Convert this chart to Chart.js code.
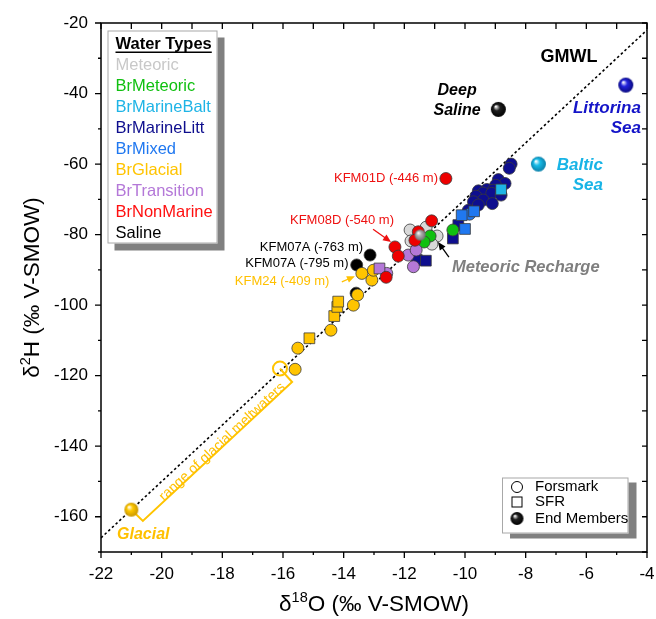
<!DOCTYPE html>
<html><head><meta charset="utf-8">
<script src="https://cdn.jsdelivr.net/npm/chart.js@4.4.1/dist/chart.umd.min.js"></script>
<style>html,body{margin:0;padding:0;background:#fff;}#wrap{width:656px;height:619px;position:relative;}</style>
</head><body><div id="wrap"><canvas id="c" width="656" height="619"></canvas></div>
<script>
// ---------- DATA ----------
const xTicks = [-22,-20,-18,-16,-14,-12,-10,-8,-6,-4];
const yTicks = [-160,-140,-120,-100,-80,-60,-40,-20];

const gmwlX = [-22, -4];
const gmwlY = [-166, -22];
const meltRange = [[-16.1,-118.0],[-15.7,-121.8],[-20.62,-161.2],[-21.0,-158.0]];
const meltCircle = [[-16.1,-118.0]];

const meteoricForsmark = [[-11.81,-78.7],[-11.78,-81.8],[-11.28,-77.9],[-10.92,-80.4],[-11.09,-82.7]];
const brMeteoricForsmark = [[-11.15,-80.4],[-11.35,-82.1],[-10.40,-78.7]];
const brMarineBaltSFR = [[-8.81,-67.2]];
const brMarineLittForsmark = [[-8.48,-60.0],[-8.54,-61.2],[-8.90,-64.4],[-8.68,-65.5],[-8.99,-66.0],[-9.28,-67.2],[-9.07,-67.4],[-9.56,-67.6],[-9.40,-68.2],[-9.12,-68.3],[-9.64,-69.1],[-9.40,-70.2],[-9.10,-71.2],[-9.72,-70.7],[-9.56,-71.6],[-9.89,-73.1],[-8.81,-68.8]];
const brMarineLittSFR = [[-10.22,-77.3],[-10.40,-81.1],[-11.59,-87.2],[-11.29,-87.4]];
const brMixedForsmark = [[-9.85,-74.2]];
const brMixedSFR = [[-10.11,-74.5],[-9.70,-73.4],[-10.00,-78.4]];
const brGlacialForsmark = [[-15.51,-112.2],[-15.60,-118.2],[-14.42,-107.1],[-13.68,-100.0],[-13.54,-97.1],[-13.40,-91.0],[-13.07,-92.9],[-13.02,-90.1]];
const brGlacialSFR = [[-15.13,-109.4],[-14.31,-103.1],[-14.21,-100.5],[-14.18,-99.0]];
const brTransitionForsmark = [[-12.58,-91.0],[-11.87,-85.8],[-11.61,-84.4],[-11.70,-89.1]];
const brTransitionSFR = [[-12.82,-89.6]];
const brNonMarineForsmark = [[-10.63,-64.1],[-11.10,-76.1],[-11.54,-79.2],[-11.65,-81.6],[-12.31,-83.5],[-12.20,-86.1],[-12.60,-92.1]];
const salineForsmark = [[-13.13,-85.8],[-13.57,-88.6],[-13.59,-96.6]];

const endDeepSaline = [[-8.9,-44.5]];
const endLittorina = [[-4.7,-37.6]];
const endBaltic = [[-7.58,-60.0]];
const endGlacial = [[-21.0,-158.0]];
const endMeteoric = [[-11.48,-80.1]];

const waterTypes = ['Meteoric','BrMeteoric','BrMarineBalt','BrMarineLitt','BrMixed','BrGlacial','BrTransition','BrNonMarine','Saline'];
const typeColors = ['#C8C8C8','#10C010','#1EB4E6','#0E0E8E','#2078F0','#FFC400','#B478D8','#FF1010','#000000'];

// ---------- HELPERS ----------
const FONT = "'Liberation Sans', Arial, Helvetica, sans-serif";
const pts = a => a.map(([x,y]) => ({x,y}));
function sphere(color, dark, r){
  const c = document.createElement('canvas');
  const s = Math.ceil(r*2+2); c.width = s; c.height = s;
  const g = c.getContext('2d'); const cx = s/2, cy = s/2;
  const gr = g.createRadialGradient(cx-r*0.35, cy-r*0.4, r*0.05, cx, cy, r);
  gr.addColorStop(0,'#ffffff'); gr.addColorStop(0.4,color); gr.addColorStop(1,dark);
  g.fillStyle = gr; g.beginPath(); g.arc(cx,cy,r,0,Math.PI*2); g.fill();
  return c;
}
const sphBlack = sphere('#202020','#000000',7.5);
const sphLitt = sphere('#2222DD','#0A0A80',7.5);
const sphBaltic = sphere('#18BCE8','#0A7FA8',7.5);
const sphGlacial = sphere('#FFC800','#C89600',7);
const sphMeteoric = sphere('#B0B0B0','#707070',5.5);
const sphLegend = sphere('#202020','#000000',6.5);

function scat(data, color, style, order, radius){
  return {data: pts(data), backgroundColor: color, borderColor:'#3a3a3a', borderWidth:0.8,
    pointStyle: style, pointRadius: radius || (style==='rect'?7.6:6), order, showLine:false};
}
function endm(data, img, order){
  return {data: pts(data), pointStyle: img, pointRadius: 8, order, showLine:false};
}

const datasets = [
  {data: gmwlX.map((x,i)=>({x, y:gmwlY[i]})), showLine:true, borderColor:'#000', borderWidth:1.6, borderDash:[2.5,2.5], pointRadius:0, order:100},
  {data: pts(meltRange), showLine:true, borderColor:'#FFC400', borderWidth:2, pointRadius:0, order:99},
  {data: pts(meltCircle), showLine:false, backgroundColor:'rgba(0,0,0,0)', borderColor:'#FFC400', borderWidth:2, pointStyle:'circle', pointRadius:7, order:98},
  scat(brMarineLittForsmark, typeColors[3], 'circle', 50),
  scat(brMarineLittSFR, typeColors[3], 'rect', 49),
  scat(brMixedForsmark, typeColors[4], 'circle', 48),
  scat(brMixedSFR, typeColors[4], 'rect', 47),
  scat(brMarineBaltSFR, typeColors[2], 'rect', 46),
  scat(meteoricForsmark, '#D8D8D8', 'circle', 45),
  scat(brMeteoricForsmark, typeColors[1], 'circle', 44),
  scat(salineForsmark, typeColors[8], 'circle', 43),
  scat(brGlacialSFR, typeColors[5], 'rect', 42),
  scat(brGlacialForsmark, typeColors[5], 'circle', 41),
  scat(brTransitionForsmark, typeColors[6], 'circle', 40),
  scat(brTransitionSFR, typeColors[6], 'rect', 39),
  scat(brNonMarineForsmark, '#EE0000', 'circle', 38),
  endm(endDeepSaline, sphBlack, 5),
  endm(endLittorina, sphLitt, 5),
  endm(endBaltic, sphBaltic, 5),
  endm(endGlacial, sphGlacial, 5),
  endm(endMeteoric, sphMeteoric, 4),
];

// annotations anchored in data units
const labels = [
  {t:'KFM01D (-446 m)', x:-10.89, y:-64.0, al:'right', c:'#EE1111', f:`13px ${FONT}`},
  {t:'KFM08D (-540 m)', x:-12.34, y:-75.9, al:'right', c:'#EE1111', f:`13px ${FONT}`},
  {t:'KFM07A (-763 m)', x:-13.36, y:-83.5, al:'right', c:'#000', f:`13px ${FONT}`},
  {t:'KFM07A (-795 m)', x:-13.84, y:-88.2, al:'right', c:'#000', f:`13px ${FONT}`},
  {t:'KFM24 (-409 m)', x:-14.47, y:-93.2, al:'right', c:'#FFC000', f:`13px ${FONT}`},
  {t:'Meteoric Recharge', x:-10.43, y:-89.35, al:'left', c:'#7F7F7F', f:`italic bold 16.5px ${FONT}`},
  {t:'GMWL', x:-6.57, y:-29.7, al:'center', c:'#000', f:`bold 18px ${FONT}`},
  {t:'Deep', x:-10.26, y:-39.1, al:'center', c:'#000', f:`italic bold 16px ${FONT}`},
  {t:'Saline', x:-10.26, y:-44.7, al:'center', c:'#000', f:`italic bold 16px ${FONT}`},
  {t:'Littorina', x:-4.20, y:-44.2, al:'right', c:'#1414C8', f:`italic bold 17px ${FONT}`},
  {t:'Sea', x:-4.20, y:-49.9, al:'right', c:'#1414C8', f:`italic bold 17px ${FONT}`},
  {t:'Baltic', x:-5.45, y:-60.3, al:'right', c:'#18B4E6', f:`italic bold 17px ${FONT}`},
  {t:'Sea', x:-5.45, y:-66.0, al:'right', c:'#18B4E6', f:`italic bold 17px ${FONT}`},
  {t:'Glacial', x:-21.47, y:-165.2, al:'left', c:'#FFC000', f:`italic bold 16px ${FONT}`},
];
const arrows = [
  {from:[-13.03,-78.5], to:[-12.44,-82.1], c:'#EE1111'},
  {from:[-14.06,-93.4], to:[-13.63,-91.8], c:'#FFC000'},
  {from:[-10.53,-86.4], to:[-10.89,-82.1], c:'#000'},
];
const rotLabel = {t:'range of glacial meltwaters', x:-18.0, y:-138.8, c:'#FFC000', f:`14px ${FONT}`};

function arrow(ctx, x1,y1,x2,y2,c){
  const ang = Math.atan2(y2-y1, x2-x1), hl = 8, hw = 3.5;
  ctx.strokeStyle=c; ctx.fillStyle=c; ctx.lineWidth=1.3;
  ctx.beginPath(); ctx.moveTo(x1,y1); ctx.lineTo(x2-Math.cos(ang)*hl*0.8, y2-Math.sin(ang)*hl*0.8); ctx.stroke();
  ctx.beginPath(); ctx.moveTo(x2,y2);
  ctx.lineTo(x2-Math.cos(ang)*hl - Math.sin(ang)*hw, y2-Math.sin(ang)*hl + Math.cos(ang)*hw);
  ctx.lineTo(x2-Math.cos(ang)*hl + Math.sin(ang)*hw, y2-Math.sin(ang)*hl - Math.cos(ang)*hw);
  ctx.closePath(); ctx.fill();
}
function drawRich(ctx, parts, cx, cy, rot){
  ctx.save(); ctx.translate(cx,cy); if(rot) ctx.rotate(rot);
  let w = 0;
  parts.forEach(p => { ctx.font = `${p[1]}px ${FONT}`; w += ctx.measureText(p[0]).width; });
  let x = -w/2; ctx.textBaseline='alphabetic'; ctx.textAlign='left'; ctx.fillStyle='#000';
  parts.forEach(p => { ctx.font = `${p[1]}px ${FONT}`; ctx.fillText(p[0], x, 8 + p[2]); x += ctx.measureText(p[0]).width; });
  ctx.restore();
}

const deco = {
  id:'deco',
  afterDatasetsDraw(chart){
    const {ctx, chartArea:a, scales:{x, y}} = chart;
    ctx.save();
    ctx.strokeStyle='#000'; ctx.lineWidth=1.5;
    ctx.strokeRect(a.left, a.top, a.right-a.left, a.bottom-a.top);
    ctx.lineWidth=1.3; ctx.beginPath();
    for(let v=-22; v<=-4; v++){
      const px = x.getPixelForValue(v);
      const L = (v%2===0)?6:3;
      ctx.moveTo(px, a.bottom); ctx.lineTo(px, a.bottom+L);
      ctx.moveTo(px, a.top); ctx.lineTo(px, a.top+6);
    }
    for(let v=-170; v<=-20; v+=10){
      const py = y.getPixelForValue(v);
      const L = (v%20===0)?6:3;
      ctx.moveTo(a.left, py); ctx.lineTo(a.left-L, py);
      ctx.moveTo(a.right, py); ctx.lineTo(a.right-5, py);
    }
    ctx.stroke();
    ctx.textBaseline='middle';
    labels.forEach(l => {
      ctx.font=l.f; ctx.fillStyle=l.c; ctx.textAlign=l.al;
      ctx.fillText(l.t, x.getPixelForValue(l.x), y.getPixelForValue(l.y));
    });
    arrows.forEach(r => arrow(ctx, x.getPixelForValue(r.from[0]), y.getPixelForValue(r.from[1]), x.getPixelForValue(r.to[0]), y.getPixelForValue(r.to[1]), r.c));
    const p0 = [x.getPixelForValue(meltRange[2][0]), y.getPixelForValue(meltRange[2][1])];
    const p1 = [x.getPixelForValue(meltRange[1][0]), y.getPixelForValue(meltRange[1][1])];
    const ang = Math.atan2(p1[1]-p0[1], p1[0]-p0[0]);
    ctx.save(); ctx.translate(x.getPixelForValue(rotLabel.x), y.getPixelForValue(rotLabel.y)); ctx.rotate(ang);
    ctx.font=rotLabel.f; ctx.fillStyle=rotLabel.c; ctx.textAlign='center'; ctx.textBaseline='middle';
    ctx.fillText(rotLabel.t, 0, 0); ctx.restore();
    ctx.restore();
  },
  afterDraw(chart){
    const {ctx, chartArea:a} = chart;
    ctx.save();
    let bx = a.left+6.5, by = a.top+7.5, bw = 110, bh = 213;
    ctx.fillStyle='#808080'; ctx.fillRect(bx+7, by+7, bw, bh);
    ctx.fillStyle='#fff'; ctx.fillRect(bx, by, bw, bh);
    ctx.strokeStyle='#A8A8A8'; ctx.lineWidth=1; ctx.strokeRect(bx+0.5, by+0.5, bw-1, bh-1);
    ctx.textBaseline='middle'; ctx.textAlign='left';
    ctx.font=`bold 16.5px ${FONT}`; ctx.fillStyle='#000';
    const tw = ctx.measureText('Water Types').width;
    ctx.fillText('Water Types', bx+8, by+13.5);
    ctx.fillRect(bx+8, by+21, tw, 1.5);
    ctx.font=`16.5px ${FONT}`;
    waterTypes.forEach((t,i) => { ctx.fillStyle=typeColors[i]; ctx.fillText(t, bx+8, by+34.5+i*21.1); });
    bx = 502; by = 477.5; bw = 126.5; bh = 56;
    ctx.fillStyle='#808080'; ctx.fillRect(bx+8, by+5, bw, bh);
    ctx.fillStyle='#fff'; ctx.fillRect(bx, by, bw, bh);
    ctx.strokeStyle='#A8A8A8'; ctx.strokeRect(bx+0.5, by+0.5, bw-1, bh-1);
    ctx.strokeStyle='#000'; ctx.lineWidth=1;
    ctx.beginPath(); ctx.arc(bx+15, by+9.5, 5.5, 0, Math.PI*2); ctx.stroke();
    ctx.strokeRect(bx+10, by+19.5, 10, 10);
    ctx.drawImage(sphLegend, bx+15-sphLegend.width/2, by+41-sphLegend.height/2);
    ctx.font=`15px ${FONT}`; ctx.fillStyle='#000';
    ctx.fillText('Forsmark', bx+33, by+9.5);
    ctx.fillText('SFR', bx+33, by+24.5);
    ctx.fillText('End Members', bx+33, by+41);
    drawRich(ctx, [['δ',22.5,0],['18',14.5,-9],['O (‰ V-SMOW)',22.5,0]], (a.left+a.right)/2, 603, 0);
    drawRich(ctx, [['δ',22.5,0],['2',14.5,-9],['H (‰ V-SMOW)',22.5,0]], 31, (a.top+a.bottom)/2, -Math.PI/2);
    ctx.restore();
  }
};

const hiddenGrid = {display:true, drawOnChartArea:false, drawTicks:true, color:'rgba(0,0,0,0)'};
new Chart(document.getElementById('c'), {
  type:'scatter',
  data:{datasets},
  options:{
    responsive:false, animation:false, devicePixelRatio:1,
    layout:{padding:{top:23, right:9, left:0, bottom:0}},
    plugins:{legend:{display:false}, tooltip:{enabled:false}},
    scales:{
      x:{type:'linear', min:-22, max:-4,
        afterBuildTicks: s => { s.ticks = xTicks.map(v=>({value:v})); },
        afterFit: s => { s.height = 67; },
        ticks:{font:{size:17, family:FONT}, color:'#000', padding:0, maxRotation:0, autoSkip:false},
        grid:{...hiddenGrid, tickLength:12}, border:{display:false}},
      y:{type:'linear', min:-170, max:-20,
        afterBuildTicks: s => { s.ticks = yTicks.map(v=>({value:v})); },
        afterFit: s => { s.width = 101; },
        ticks:{font:{size:17, family:FONT}, color:'#000', padding:6, autoSkip:false},
        grid:{...hiddenGrid, tickLength:7}, border:{display:false}}
    }
  },
  plugins:[deco]
});
</script></body></html>
